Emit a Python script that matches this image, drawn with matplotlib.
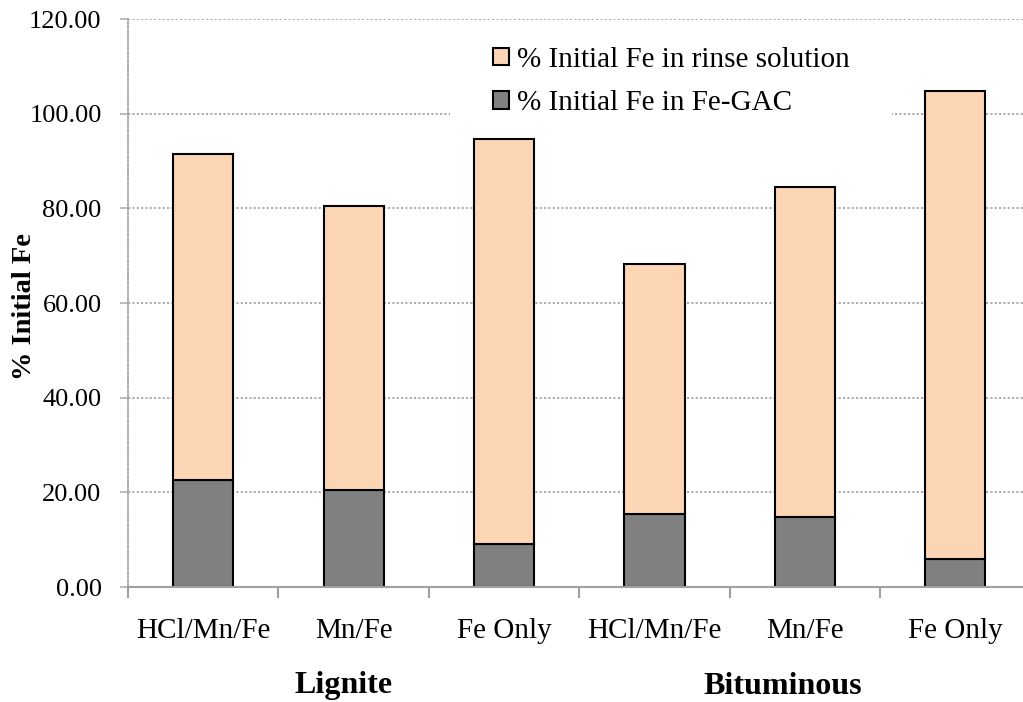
import matplotlib
matplotlib.use("Agg")
from matplotlib import pyplot as plt
from matplotlib.patches import Rectangle
from matplotlib.transforms import blended_transform_factory
import numpy as np

plt.rcParams['font.family'] = ['Liberation Serif', 'DejaVu Serif']

# data
categories = ["HCl/Mn/Fe", "Mn/Fe", "Fe Only", "HCl/Mn/Fe", "Mn/Fe", "Fe Only"]
fe_gac = [22.6, 20.6, 9.1, 15.5, 14.8, 6.0]
rinse_total = [91.5, 80.5, 94.6, 68.3, 84.6, 104.7]
rinse = [t - g for t, g in zip(rinse_total, fe_gac)]
groups = ["Lignite", "Bituminous"]
group_x = [0.93, 3.85]

fig = plt.figure(figsize=(10.23, 7.02), dpi=100)
ax = fig.add_axes([0.1251, 0.1638, 0.8822, 0.8091])

x = np.arange(len(categories))
b1 = ax.bar(x, fe_gac, width=0.4, color="#808080", edgecolor="black", linewidth=1.5,
            label="% Initial Fe in Fe-GAC", zorder=3)
b2 = ax.bar(x, rinse, width=0.4, bottom=fe_gac, color="#FCD5B5", edgecolor="black",
            linewidth=1.5, label="% Initial Fe in rinse solution", zorder=3)

ax.set_xlim(-0.5, 5.5)
ax.set_ylim(0, 120)
ax.set_yticks(np.arange(0, 121, 20))
ax.set_yticklabels(["%.2f" % v for v in np.arange(0, 121, 20)], fontsize=19)
ax.set_xticks(x)
ax.set_xticklabels(categories, fontsize=21)
ax.set_xticks(np.arange(-0.5, 6.0, 1.0), minor=True)
ax.tick_params(axis="x", which="major", length=0, pad=22)
ax.tick_params(axis="x", which="minor", length=8, width=1.5, color="#A0A0A0")
ax.tick_params(axis="y", length=6, width=1.2, color="#B0B0B0", pad=13)

ax.grid(axis="y", linestyle=(0, (1.2, 1.2)), color="#A6A6A6", linewidth=1.3, zorder=0)
for s in ["top", "right"]:
    ax.spines[s].set_visible(False)
ax.spines["left"].set_linestyle((0, (1.2, 1.2)))
ax.spines["left"].set_color("#A6A6A6")
ax.spines["left"].set_linewidth(1.3)
ax.spines["bottom"].set_color("#A0A0A0")
ax.spines["bottom"].set_linewidth(1.5)
ax.spines["bottom"].set_zorder(4)

fig.text(25 / 1023, 1 - 307 / 702, "% Initial Fe", rotation=90, ha="center", va="center",
         fontsize=20.5, fontweight="bold")

trans = blended_transform_factory(ax.transData, fig.transFigure)
for gx, g in zip(group_x, groups):
    ax.text(gx, 1 - 686 / 702, g, transform=trans, ha="center", va="center",
            fontsize=23, fontweight="bold")

# white legend box hiding the grid
ax.add_patch(Rectangle((450 / 1023, 1 - 132 / 702), 442 / 1023, 104 / 702,
                       transform=fig.transFigure, facecolor="white", edgecolor="none",
                       zorder=2))
leg = ax.legend(handles=[b2, b1], loc="upper left", bbox_to_anchor=(493 / 1023, 1 - 47 / 702),
                bbox_transform=fig.transFigure, frameon=False,
                fontsize=21, handlelength=0.55, handleheight=0.55, handletextpad=0.27,
                labelspacing=0.6, borderpad=0, borderaxespad=0)

fig.savefig("out.png", dpi=100)
